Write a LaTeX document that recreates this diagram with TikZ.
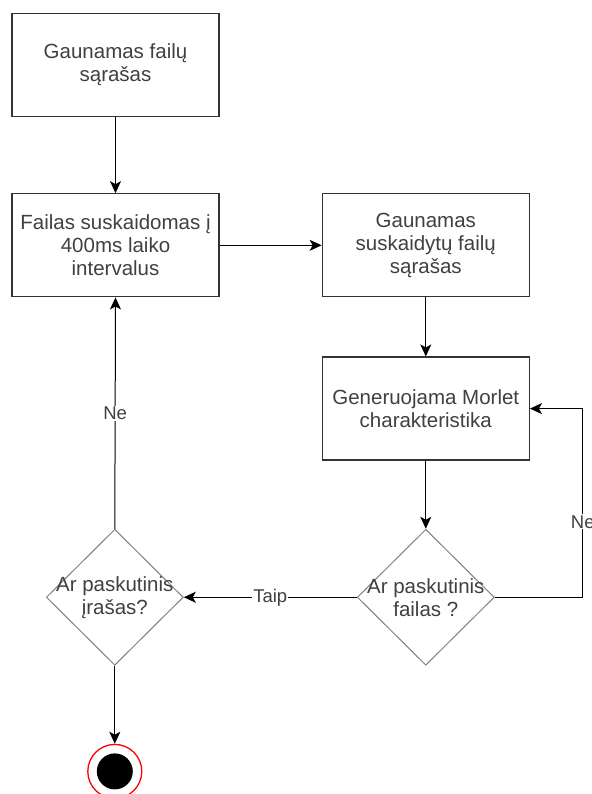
\documentclass[tikz,border=0pt]{standalone}
\usepackage{fontspec}
\setmainfont{Liberation Sans}
\usetikzlibrary{positioning,shapes.geometric,arrows.meta}
\tikzset{
    process/.style={draw=black!80, rectangle, line width=1.3pt, minimum width=207pt, minimum height=103pt, align=center, text=black!75, font=\fontsize{20.5}{23}\selectfont},
    decision/.style={draw=black!50, diamond, line width=1pt, minimum width=137pt, minimum height=136pt, inner sep=0pt},
    dectext/.style={text=black!75, align=center, font=\fontsize{20.5}{23}\selectfont},
    lbl/.style={fill=white, text=black!75, inner sep=1pt, font=\fontsize{18.5}{20}\selectfont},
    endstate/.style={circle, draw=red, fill=white, line width=1.3pt, minimum size=54pt, inner sep=0pt, path picture={\fill[black] (path picture bounding box.center) circle (18pt);}},
    flow/.style={-{Stealth[length=12pt, width=11pt, inset=3pt]}, line width=1pt}
}
\begin{document}
\begin{tikzpicture}
        \useasboundingbox (0,0) rectangle (591pt,-794pt);
        % Left column
        \node (get_list) [process] at (115.5pt,-65pt) {Gaunamas failų\\sąrašas};
        \node (split) [process, below=76pt of get_list] {Failas suskaidomas į\\400ms laiko\\intervalus};

        % Right column
        \node (get_parts) [process, right=102pt of split] {Gaunamas\\suskaidytų failų\\sąrašas};
        \node (morlet) [process, below=59pt of get_parts] {Generuojama Morlet\\charakteristika};

        % Decisions
        \node (last_file) [decision, below=68pt of morlet, label={[dectext]center:Ar paskutinis\\failas ?}] {};
        \node (last_rec) [decision, left=173pt of last_file, label={[dectext]center:Ar paskutinis\\įrašas?}] {};

        % End
        \node (stop) [endstate, below=78pt of last_rec] {};

        % Connectors
        \draw[flow] (get_list) -- (split);
        \draw[flow] (split) -- (get_parts);
        \draw[flow] (get_parts) -- (morlet);
        \draw[flow] (morlet) -- (last_file);
        \draw[flow] (last_file.east) -- ++(88pt,0) |- node[lbl, pos=0.2] {Ne} (morlet.east);
        \draw[flow] (last_file.west) -- node[lbl] {Taip} (last_rec.east);
        \draw[flow] (last_rec.north) -- node[lbl] {Ne} (split.south);
        \draw[flow] (last_rec.south) -- (stop);
\end{tikzpicture}
\end{document}
